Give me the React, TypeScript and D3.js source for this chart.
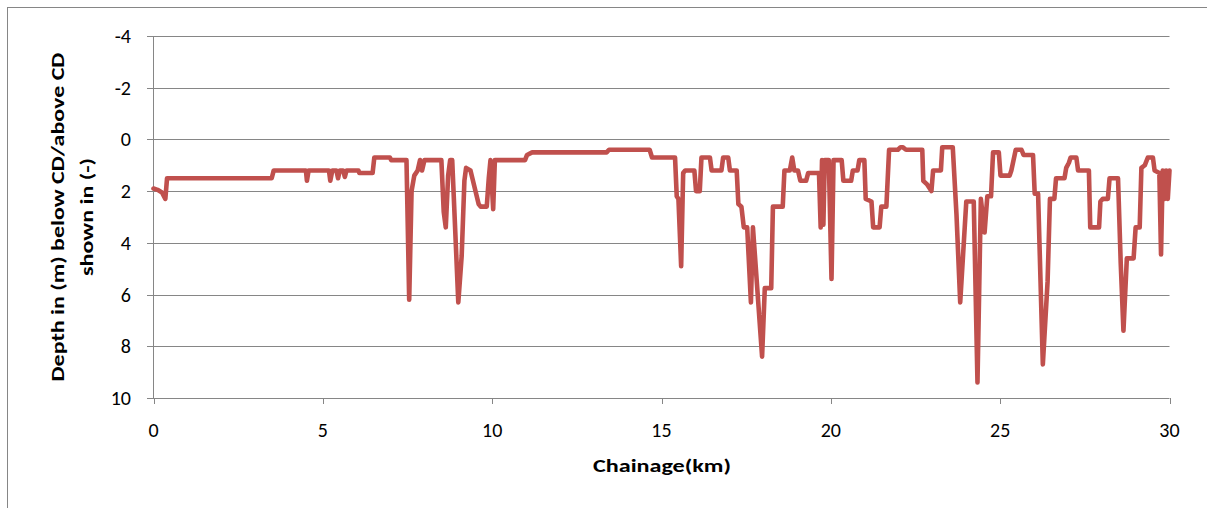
import React from "react";
import * as d3 from "d3";

const chainageKm: number[] = [
  0.0, 0.12, 0.25, 0.35, 0.4, 3.49, 3.55, 4.5, 4.53, 4.58, 5.18, 5.22, 5.28, 5.4, 5.45, 5.5, 5.6, 5.65, 5.7,
  6.05, 6.08, 6.47, 6.52, 6.98, 7.02, 7.47, 7.55, 7.62, 7.7, 7.8, 7.87, 7.93, 8.0, 8.5, 8.57, 8.63, 8.7,
  8.76, 8.82, 9.0, 9.1, 9.18, 9.23, 9.36, 9.6, 9.66, 9.84, 9.9, 9.95, 10.03, 10.08, 10.97, 11.03, 11.18,
  13.38, 13.45, 14.65, 14.72, 15.4, 15.45, 15.5, 15.58, 15.64, 15.7, 15.97, 16.02, 16.13, 16.18, 16.43,
  16.48, 16.77, 16.82, 16.97, 17.02, 17.22, 17.27, 17.36, 17.43, 17.53, 17.64, 17.7, 17.97, 18.05, 18.24,
  18.29, 18.58, 18.63, 18.79, 18.86, 18.92, 19.03, 19.1, 19.27, 19.33, 19.65, 19.7, 19.74, 19.78, 19.82,
  19.94, 20.02, 20.08, 20.32, 20.37, 20.6, 20.65, 20.79, 20.84, 20.99, 21.03, 21.2, 21.25, 21.44, 21.49,
  21.64, 21.72, 21.98, 22.06, 22.12, 22.22, 22.7, 22.73, 22.85, 22.97, 23.02, 23.25, 23.29, 23.6, 23.71,
  23.82, 24.0, 24.22, 24.33, 24.43, 24.54, 24.62, 24.73, 24.79, 24.96, 25.01, 25.28, 25.33, 25.46, 25.63,
  25.69, 25.97, 26.02, 26.12, 26.26, 26.4, 26.47, 26.6, 26.65, 26.9, 26.95, 27.03, 27.08, 27.25, 27.3,
  27.62, 27.66, 27.92, 27.96, 28.03, 28.18, 28.23, 28.48, 28.56, 28.64, 28.74, 28.94, 29.0, 29.12, 29.17,
  29.27, 29.36, 29.51, 29.56, 29.7, 29.75, 29.8, 29.86, 29.9, 29.95, 30.0,
];

const depthM: number[] = [
  1.9, 1.95, 2.05, 2.3, 1.5, 1.5, 1.2, 1.2, 1.6, 1.2, 1.2, 1.6, 1.2, 1.2, 1.5, 1.2, 1.2, 1.45, 1.2,
  1.2, 1.3, 1.3, 0.7, 0.7, 0.8, 0.8, 6.2, 2.0, 1.4, 1.2, 0.8, 1.2, 0.8, 0.8, 2.8, 3.4, 1.4,
  0.8, 0.8, 6.3, 4.5, 1.6, 1.1, 1.2, 2.5, 2.6, 2.6, 1.5, 0.8, 2.7, 0.8, 0.8, 0.6, 0.5,
  0.5, 0.4, 0.4, 0.7, 0.7, 2.2, 2.3, 4.9, 1.3, 1.2, 1.2, 2.0, 2.0, 0.7, 0.7,
  1.2, 1.2, 0.7, 0.7, 1.2, 1.2, 2.5, 2.6, 3.4, 3.4, 6.3, 3.4, 8.4, 5.75, 5.75,
  2.6, 2.6, 1.2, 1.2, 0.7, 1.2, 1.2, 1.6, 1.6, 1.3, 1.3, 3.4, 0.8, 3.3, 0.8,
  0.8, 5.4, 0.8, 0.8, 1.6, 1.6, 1.2, 1.2, 0.8, 0.8, 2.3, 2.4, 3.4, 3.4, 2.6,
  2.6, 0.4, 0.4, 0.3, 0.3, 0.4, 0.4, 1.6, 1.75, 2.0, 1.2, 1.2, 0.3, 0.3, 2.9,
  6.3, 2.4, 2.4, 9.4, 2.3, 3.6, 2.2, 2.2, 0.5, 0.5, 1.4, 1.4, 1.2, 0.4, 0.4,
  0.6, 0.6, 2.1, 2.1, 8.7, 5.5, 2.3, 2.3, 1.5, 1.5, 1.1, 0.9, 0.7, 0.7, 1.2,
  1.2, 3.4, 3.4, 2.4, 2.3, 2.3, 1.5, 1.5, 4.8, 7.4, 4.6, 4.6, 3.4, 3.4, 1.1,
  1.0, 0.7, 0.7, 1.2, 1.3, 4.45, 1.2, 2.3, 1.2, 2.3, 1.2,
];

const yTicks: number[] = [-4, -2, 0, 2, 4, 6, 8, 10];
const xTicks: number[] = [0, 5, 10, 15, 20, 25, 30];
const xTitle = "Chainage(km)";
const yTitleLine1 = "Depth in (m) below CD/above CD";
const yTitleLine2 = "shown in (-)";

const W = 1207;
const H = 508;
const FONT = "Carlito, Calibri, Lato, 'Open Sans', sans-serif";
const GRID = "#868686";
const LINE = "#C0504D";

export default function App() {
  const x = d3.scaleLinear().domain([0, 30]).range([153.5, 1169.5]);
  const y = d3.scaleLinear().domain([-4, 10]).range([36, 398]);
  const pts: [number, number][] = chainageKm.map((c, i) => [c, depthM[i]]);
  const line = d3
    .line<[number, number]>()
    .x((d) => x(d[0]))
    .y((d) => y(d[1]));

  return (
    <div style={{ position: "absolute", left: 0, top: 0, width: W, height: H, overflow: "hidden", background: "#fff" }}>
      <svg width={W} height={H} style={{ display: "block" }} fontFamily={FONT}>
        <rect x={0} y={0} width={W} height={H} fill="#fff" />
        <rect x={7.5} y={7.5} width={W + 10} height={H + 10} fill="none" stroke={GRID} strokeWidth={1} />
        {yTicks.map((t) => (
          <g key={"y" + t}>
            <line x1={147} x2={x(30)} y1={Math.round(y(t)) + 0.5} y2={Math.round(y(t)) + 0.5} stroke={GRID} strokeWidth={1} />
            <text x={131} y={y(t)} textAnchor="end" dominantBaseline="central" fontSize={20} fill="#000">
              {t}
            </text>
          </g>
        ))}
        <line x1={x(0)} x2={x(0)} y1={y(-4)} y2={y(10)} stroke={GRID} strokeWidth={1} />
        {xTicks.map((t) => (
          <g key={"x" + t}>
            <line x1={Math.round(x(t)) + 0.5} x2={Math.round(x(t)) + 0.5} y1={y(10)} y2={y(10) + 6} stroke={GRID} strokeWidth={1} />
            <text x={x(t)} y={437} textAnchor="middle" fontSize={20} fill="#000">
              {t}
            </text>
          </g>
        ))}
        <path d={line(pts) || ""} fill="none" stroke={LINE} strokeWidth={4.6} strokeLinejoin="round" strokeLinecap="round" />
        <text x={662} y={472} textAnchor="middle" fontSize={19} fontWeight="bold" fill="#000" textLength={138} lengthAdjust="spacingAndGlyphs">
          {xTitle}
        </text>
        <text
          transform="translate(64,217) rotate(-90)"
          textAnchor="middle"
          fontSize={19}
          fontWeight="bold"
          fill="#000"
          textLength={329}
          lengthAdjust="spacingAndGlyphs"
        >
          {yTitleLine1}
        </text>
        <text
          transform="translate(93,217) rotate(-90)"
          textAnchor="middle"
          fontSize={19}
          fontWeight="bold"
          fill="#000"
          textLength={118}
          lengthAdjust="spacingAndGlyphs"
        >
          {yTitleLine2}
        </text>
      </svg>
    </div>
  );
}
